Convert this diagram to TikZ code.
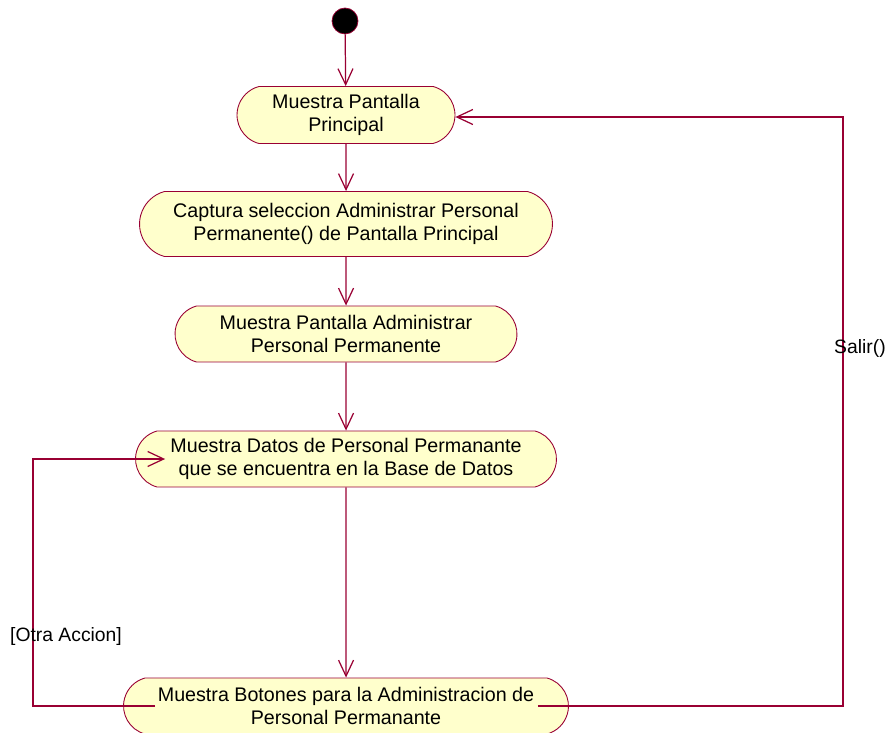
\documentclass[tikz,border=0pt]{standalone}
\usepackage{fontspec}
\setmainfont{Liberation Sans}
\usetikzlibrary{shapes.misc, arrows.meta, calc}
\definecolor{roseline}{HTML}{990033}
\definecolor{rosefill}{HTML}{FFFFCC}
\tikzset{
	actnode/.style={
			rounded rectangle,
			rounded rectangle arc length=150,
			draw=roseline,
			fill=rosefill,
			line width=0.5pt,
			align=center,
			inner sep=0pt,
			minimum height=1.12cm,
			font=\fontsize{11.2}{13}\selectfont
		},
	startnode/.style={
			circle,
			draw=roseline,
			fill=black,
			minimum size=0.52cm,
			inner sep=0pt
		},
	flow/.style={
			draw=roseline,
			line width=0.7pt,
			-{Straight Barb[length=3.2mm,width=3mm]}
		},
	guard/.style={
			font=\fontsize{11}{13}\selectfont
		}
}

\begin{document}
\begin{tikzpicture}[x=0.02cm, y=-0.02cm]
\useasboundingbox (0,0) rectangle (889,733);
\node[startnode] (s) at (345,21) {};
\node[actnode, minimum width=4.36cm, minimum height=1.14cm] (n1) at (346,115) {Muestra Pantalla\\Principal};
\node[actnode, minimum width=8.26cm, minimum height=1.3cm] (n2) at (346,224) {Captura seleccion Administrar Personal\\Permanente() de Pantalla Principal};
\node[actnode, minimum width=6.84cm] (n3) at (346,334) {Muestra Pantalla Administrar\\Personal Permanente};
\node[actnode, minimum width=8.42cm] (n4) at (346,459) {Muestra Datos de Personal Permanante\\que se encuentra en la Base de Datos};
\node[actnode, minimum width=8.9cm] (n5) at (346,706) {Muestra Botones para la Administracion de\\Personal Permanante};

\coordinate (otra) at (33,580);
\coordinate (salir) at (843,348);

\draw[flow] (s) -- (n1);
\draw[flow] (n1) -- (n2);
\draw[flow] (n2) -- (n3);
\draw[flow] (n3) -- (n4);
\draw[flow] (n4) -- (n5);

% loops back from the buttons
\draw[flow] ($(n5.west)+(32,0)$) -| (otra) |- ($(n4.west)+(30,0)$);
\draw[flow] ($(n5.east)+(-31,0)$) -| (salir) |- ($(n1.east)+(0,2)$);

\node[guard] (lotra) at (66,636) {[Otra Accion]};
\node[guard] (lsalir) at (860,348) {Salir()};
\end{tikzpicture}
\end{document}
